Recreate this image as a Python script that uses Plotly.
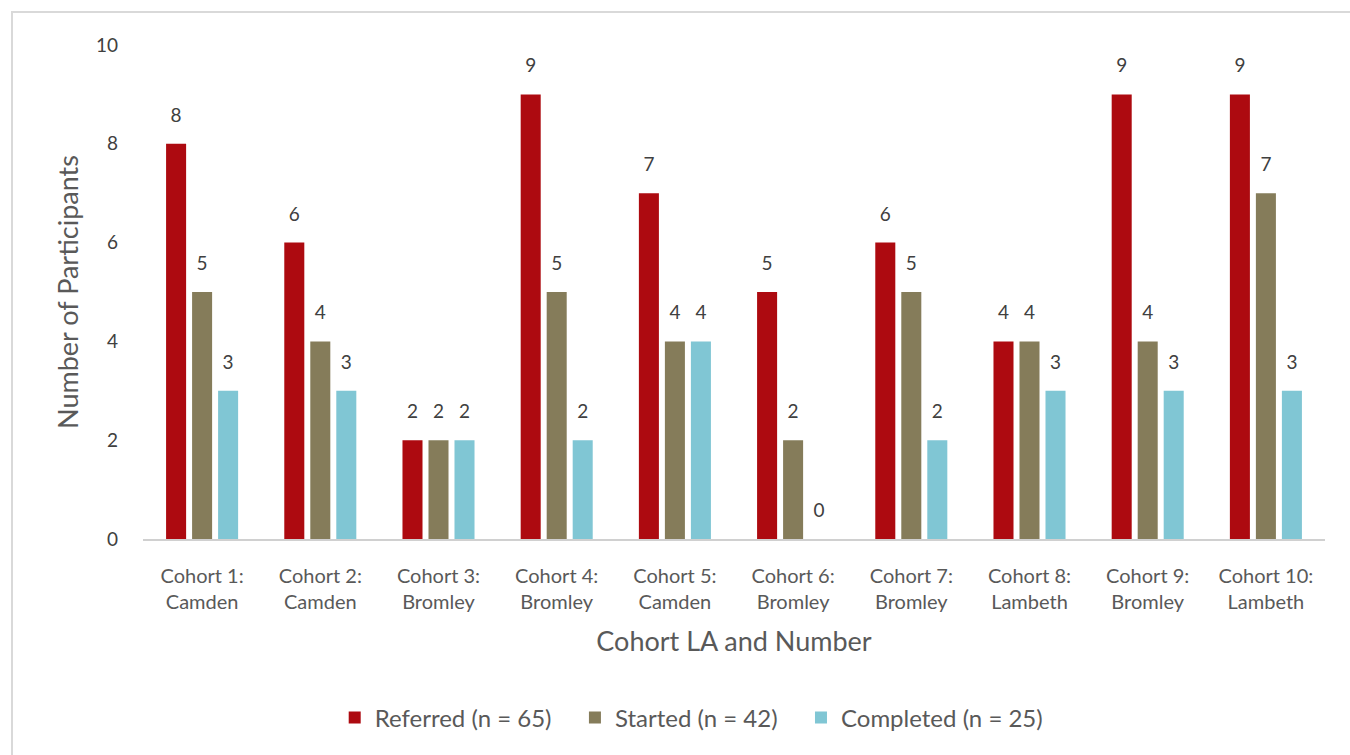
import plotly.graph_objects as go

# Cohort labels (two-line axis ticks)
cohorts = [
    "Cohort 1:<br>Camden", "Cohort 2:<br>Camden", "Cohort 3:<br>Bromley",
    "Cohort 4:<br>Bromley", "Cohort 5:<br>Camden", "Cohort 6:<br>Bromley",
    "Cohort 7:<br>Bromley", "Cohort 8:<br>Lambeth", "Cohort 9:<br>Bromley",
    "Cohort 10:<br>Lambeth",
]

referred = [8, 6, 2, 9, 7, 5, 6, 4, 9, 9]
started = [5, 4, 2, 5, 4, 2, 5, 4, 4, 7]
completed = [3, 3, 2, 2, 4, 0, 2, 3, 3, 3]

series_names = ["Referred (n = 65)", "Started (n = 42)", "Completed (n = 25)"]
series_colors = ["#AD0A10", "#857C5A", "#80C6D4"]

W, H = 1350, 755
ML, MR, MT, MB = 143, 25, 45, 216
FONT = "Lato, 'Open Sans', sans-serif"
TEXT = "#595959"
GAP = 0.34
PAD = "\u00a0" * 3  # extra room between legend entries

fig = go.Figure()
for i, (name, vals, col) in enumerate(zip(series_names, [referred, started, completed], series_colors)):
    fig.add_trace(go.Bar(
        x=cohorts, y=vals,
        name=name + (PAD if i < len(series_names) - 1 else ""),
        marker=dict(color=col, line=dict(width=0)),
    ))

# value labels, grouped the same way as the bars so each sits over its bar
for name, vals in zip(series_names, [referred, started, completed]):
    fig.add_trace(go.Scatter(
        x=cohorts, y=vals, mode="markers+text", text=vals,
        textposition="top center",
        textfont=dict(size=19, color="#404040", family=FONT),
        marker=dict(size=26, opacity=0), showlegend=False,
        hoverinfo="skip", cliponaxis=False, name=name,
    ))

# light frame around the chart area
pw, ph = W - ML - MR, H - MT - MB
fig.add_shape(
    type="rect", xref="paper", yref="paper",
    x0=(12 - ML) / pw, x1=(W + 20 - ML) / pw,
    y0=-(H + 20 - MT - ph) / ph, y1=(ph + MT - 12) / ph,
    line=dict(color="#D9D9D9", width=2), fillcolor="rgba(0,0,0,0)", layer="below",
)

fig.update_layout(
    width=W, height=H,
    margin=dict(l=ML, r=MR, t=MT, b=MB),
    paper_bgcolor="white", plot_bgcolor="white",
    barmode="group", bargap=GAP, bargroupgap=0.23,
    scattermode="group", scattergap=GAP,
    font=dict(family=FONT, color=TEXT),
    showlegend=True,
    legend=dict(
        orientation="h", xref="container", yref="container",
        x=0.512, xanchor="center", y=0.049, yanchor="middle",
        font=dict(size=24, color=TEXT), itemwidth=30, traceorder="normal",
    ),
    xaxis=dict(
        showline=True, linecolor="#D0D0D0", linewidth=2,
        showgrid=False, ticks="", ticklabelstandoff=18,
        tickfont=dict(size=20, color=TEXT),
        title=dict(text="Cohort LA and Number", font=dict(size=27, color=TEXT), standoff=20),
    ),
    yaxis=dict(
        range=[0, 10], dtick=2, showgrid=False, zeroline=False, showline=False,
        ticks="", ticklabelstandoff=24, tickfont=dict(size=19, color="#404040"),
        title=dict(text="Number of Participants", font=dict(size=27, color=TEXT), standoff=9),
    ),
)

fig.write_html("out.html")
